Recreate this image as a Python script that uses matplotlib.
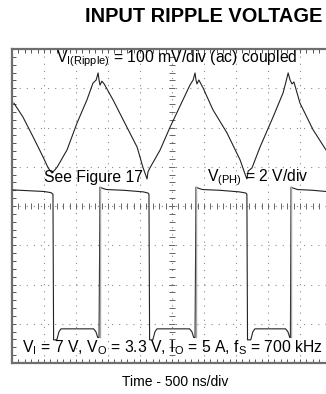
#!/usr/bin/env python3
"""Input ripple voltage scope capture (ripple + switch node), redrawn with matplotlib."""

import matplotlib
matplotlib.use("Agg")
import matplotlib.pyplot as plt
from matplotlib.ticker import MultipleLocator

# scope screen: 10 x 8 divisions, values below are in divisions
ripple_x = [0.06, 0.34, 0.66, 0.97, 1.13, 1.25, 1.34, 1.41, 1.72, 2.03, 2.34, 2.53,
            2.63, 2.69, 2.72, 2.75, 2.81, 2.88, 3.16, 3.59, 3.91, 4.09, 4.19, 4.22,
            4.25, 4.31, 4.63, 4.94, 5.34, 5.56, 5.66, 5.72, 5.75, 5.78, 5.84, 5.97,
            6.28, 6.72, 7.13, 7.28, 7.34, 7.38, 7.50, 7.75, 8.16, 8.47, 8.56, 8.63,
            8.69, 8.75, 8.81, 9.00, 9.41, 9.81]
ripple_y = [2.62, 2.27, 1.76, 1.25, 0.97, 0.84, 0.92, 0.99, 1.43, 2.11, 2.70, 3.13,
            3.21, 3.39, 3.21, 3.08, 3.18, 3.11, 2.70, 2.01, 1.50, 0.99, 0.76, 0.69,
            0.87, 0.97, 1.43, 2.01, 2.70, 3.08, 3.21, 3.39, 3.21, 3.11, 3.21, 3.01,
            2.45, 1.86, 1.17, 0.82, 0.69, 0.89, 0.97, 1.50, 2.27, 2.88, 3.16, 3.39,
            3.21, 3.11, 3.16, 2.62, 1.94, 1.43]

ph_x = [0.03, 0.50, 1.00, 1.22, 1.28, 1.30, 1.40, 1.47, 1.53, 2.55, 2.62, 2.68, 2.72,
        2.75, 2.80, 2.95, 3.50, 4.10, 4.25, 4.28, 4.30, 4.40, 4.47, 4.53, 5.55, 5.62,
        5.68, 5.72, 5.75, 5.80, 5.95, 6.50, 7.10, 7.31, 7.34, 7.36, 7.46, 7.53, 7.59,
        8.55, 8.62, 8.68, 8.70, 8.72, 8.77, 8.92, 9.40, 9.81]
ph_y = [0.41, 0.39, 0.37, 0.34, 0.30, -3.41, -3.41, -3.20, -3.13, -3.13, -3.20, -3.35,
        -3.35, 0.48, 0.46, 0.42, 0.40, 0.36, 0.33, 0.30, -3.41, -3.41, -3.20, -3.13,
        -3.13, -3.20, -3.35, -3.35, 0.48, 0.46, 0.42, 0.40, 0.36, 0.33, 0.30, -3.41,
        -3.41, -3.20, -3.13, -3.13, -3.20, -3.35, -3.35, 0.48, 0.46, 0.42, 0.40, 0.37]
rise_x = [2.75, 5.75, 8.72]

title = "INPUT RIPPLE VOLTAGE"
ripple_label = r"$\mathrm{V_{I(Ripple)}}$ = 100 mV/div (ac) coupled"
ph_label = r"$\mathrm{V_{(PH)}}$ = 2 V/div"
cond_label = (r"$\mathrm{V_I}$ = 7 V, $\mathrm{V_O}$ = 3.3 V, "
              r"$\mathrm{I_O}$ = 5 A, $\mathrm{f_S}$ = 700 kHz")
x_label = "Time - 500 ns/div"

plt.rcParams["font.family"] = ["Liberation Sans", "DejaVu Sans"]
plt.rcParams["mathtext.fontset"] = "custom"
plt.rcParams["mathtext.rm"] = "Liberation Sans"
plt.rcParams["mathtext.it"] = "Liberation Sans:italic"

W, H = 326, 394
fig = plt.figure(figsize=(W / 100, H / 100), dpi=100)
# screen runs past the right edge of the picture, like the original crop
ax = fig.add_axes([12 / W, 31 / H, 320 / W, 314 / H])
ax.set_xlim(0, 10)
ax.set_ylim(-4, 4)

for s in ax.spines.values():
    s.set_color("#6e6e6e")
    s.set_linewidth(1.6)
ax.xaxis.set_major_locator(MultipleLocator(1))
ax.yaxis.set_major_locator(MultipleLocator(1))
ax.xaxis.set_minor_locator(MultipleLocator(0.2))
ax.yaxis.set_minor_locator(MultipleLocator(0.2))
ax.tick_params(which="both", direction="in", top=True, right=True,
               labelbottom=False, labelleft=False, color="#555555", width=0.7)
ax.tick_params(which="major", length=3)
ax.tick_params(which="minor", length=3)

# dotted graticule
for i in range(1, 10):
    ax.axvline(i, color="#8a8a8a", lw=0.8, ls=(0, (1, 5.4)), zorder=1)
for j in range(-3, 4):
    ax.axhline(j, color="#8a8a8a", lw=0.8, ls=(0, (1, 5.4)), zorder=1)

# centre axes with minor tick crosses
minor_x = [k / 5 for k in range(1, 50)]
minor_y = [k / 5 - 4 for k in range(1, 40)]
ax.plot(minor_x, [0] * len(minor_x), ls="none", marker="|", ms=4, mew=0.7,
        color="#666666", zorder=2)
ax.plot([5] * len(minor_y), minor_y, ls="none", marker="_", ms=4, mew=0.7,
        color="#666666", zorder=2)

# traces
ax.plot(ripple_x, ripple_y, color="#222222", lw=0.8, zorder=3)
ax.plot(ph_x, ph_y, color="#222222", lw=0.8, zorder=3)
for rx in rise_x:
    ax.plot([rx, rx], [-3.35, 0.48], color="#a8a8a8", lw=1.0, zorder=4)

# annotations
ax.text(5.15, 3.75, ripple_label, fontsize=11.3, ha="center", va="center", zorder=5)
ax.text(2.56, 0.72, "See Figure 17", fontsize=11.3, ha="center", va="center", zorder=5)
ax.text(6.08, 0.72, ph_label, fontsize=11.3, ha="left", va="center", zorder=5)
ax.text(0.32, -3.6, cond_label, fontsize=11.3, ha="left", va="center", zorder=5)

fig.text(322 / W, 1 - 17 / H, title, fontsize=14.4, fontweight="bold",
         ha="right", va="center")
fig.text(175 / W, 1 - 382 / H, x_label, fontsize=10, ha="center", va="center")

fig.savefig("out.png", dpi=100)
